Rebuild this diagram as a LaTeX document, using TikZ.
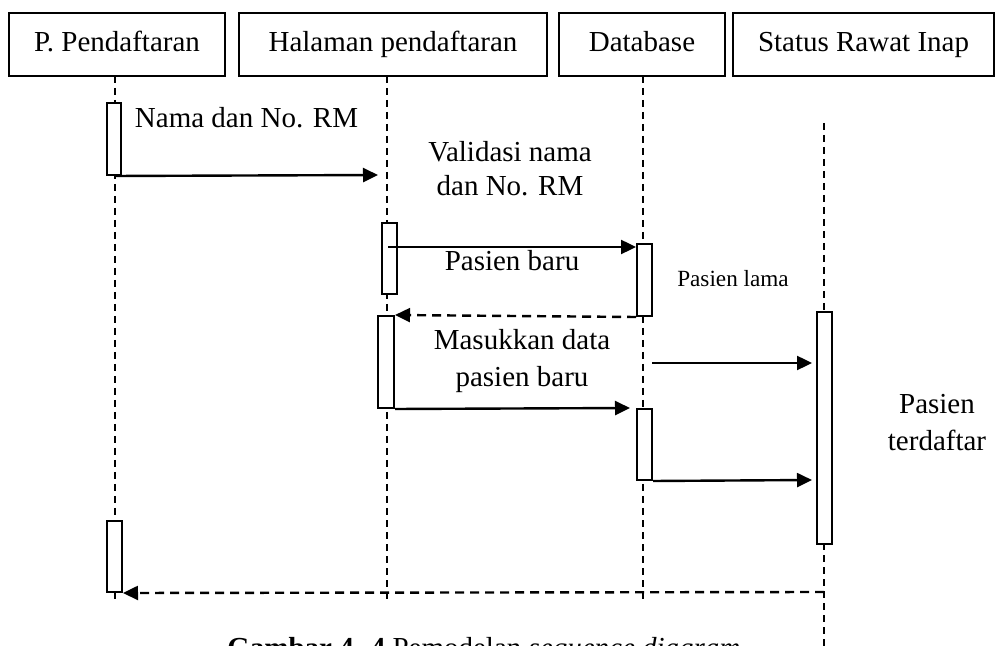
\documentclass[tikz,border=0pt]{standalone}
\usepackage{fontspec}
\setmainfont{Liberation Serif}
\usetikzlibrary{arrows.meta}
\begin{document}
\begin{tikzpicture}[x=0.5pt,y=-0.5pt,
  obj/.style={draw, line width=1pt, inner sep=0, minimum height=31.5pt, text height=10pt, text depth=3pt, font=\fontsize{14.5}{17}\selectfont},
  life/.style={line width=0.8pt, dash pattern=on 3.5pt off 2.5pt},
  act/.style={draw, fill=white, line width=1pt, inner sep=0, minimum width=7.5pt},
  msg/.style={line width=1.2pt, -{Triangle[length=7.5pt,width=7pt]}},
  ret/.style={msg, dash pattern=on 4.5pt off 3pt},
  lbl/.style={font=\fontsize{14.5}{18.5}\selectfont, align=center, inner sep=0},
  small/.style={font=\fontsize{11.6}{14}\selectfont, inner sep=0},
]
\useasboundingbox (0,0) rectangle (996,646);
\clip (0,0) rectangle (996,646);

% object boxes
\node[obj, minimum width=108pt] (b1) at (117,44.5) {P. Pendaftaran};
\node[obj, minimum width=154pt] (b2) at (393,44.5) {Halaman pendaftaran};
\node[obj, minimum width=83pt] (b3) at (642,44.5) {Database};
\node[obj, minimum width=130.5pt] (b4) at (863.5,44.5) {Status Rawat Inap};

% lifelines
\draw[life] (115,76) -- (115,600);
\draw[life] (387,76) -- (387,600);
\draw[life] (643,76) -- (643,600);
\draw[life] (824,123) -- (824,646);

% activation boxes
\node[act, minimum width=7pt, minimum height=36pt] (A1) at (114,139) {};
\node[act, minimum height=35.5pt] (A2) at (389.5,258.5) {};
\node[act, minimum height=36pt] (A3) at (644.5,280) {};
\node[act, minimum width=8pt, minimum height=46pt] (A4) at (386,362) {};
\node[act, minimum height=35.5pt] (A5) at (644.5,444.5) {};
\node[act, minimum height=116pt] (A6) at (824.5,428) {};
\node[act, minimum height=35.5pt] (A7) at (114.5,556.5) {};

% free ends
\coordinate (e1) at (378,175);
\coordinate (s2) at (388,247);
\coordinate (e4) at (630,408);
\coordinate (s5) at (652,363);
\coordinate (e5) at (812,363);
\coordinate (e6) at (812,480);
\coordinate (s7) at (824,592);

% messages
\draw[msg] (A1.south) -- (e1);
\draw[msg] (s2) -- (A3.west |- s2);
\draw[ret] (A3.south west) -- (A4.north east);
\draw[msg] (A4.south east) -- (e4);
\draw[msg] (s5) -- (e5);
\draw[msg] (A5.south east) -- (e6);
\draw[ret] (s7) -- (A7.south east);

% labels
\node[lbl, anchor=base] (t1) at (246.5,128) {Nama dan No. RM};
\node[lbl, font=\fontsize{14.5}{17}\selectfont] (t2) at (510,169) {Validasi nama\\dan No. RM};
\node[lbl, anchor=base] (t3) at (512,271) {Pasien baru};
\node[small, anchor=base] (t4) at (733,287) {Pasien lama};
\node[lbl] (t5) at (522,361.5) {Masukkan data\\pasien baru};
\node[lbl] (t6) at (937,423) {Pasien\\terdaftar};

% caption
\node[lbl, anchor=base west, font=\fontsize{14.5}{18}\selectfont] (cap) at (227,657)
  {\textbf{Gambar 4. 4} Pemodelan \textit{sequence diagram}};
\end{tikzpicture}
\end{document}
